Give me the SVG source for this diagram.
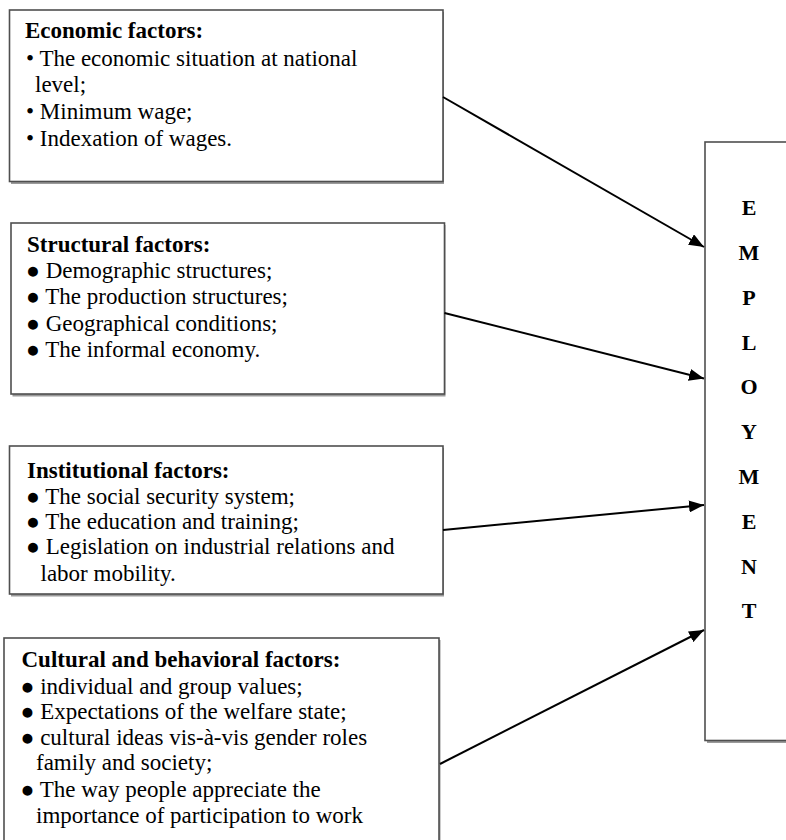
<svg xmlns="http://www.w3.org/2000/svg" width="786" height="840" viewBox="0 0 786 840">
  <style>
    .box { fill: #ffffff; stroke: #4f4f4f; stroke-width: 1.6; }
    .shadow { fill: #9a9a9a; }
    .t { font-family: 'Liberation Serif', 'DejaVu Serif', serif; font-size: 23px; fill: #000; }
    .b { font-weight: bold; }
    .e { font-family: 'Liberation Serif', 'DejaVu Serif', serif; font-size: 22px; font-weight: bold; text-anchor: middle; fill: #000; }
    .conn { stroke: #000; stroke-width: 2; fill: none; marker-end: url(#arr); }
  </style>
  <defs>
    <marker id="arr" markerUnits="userSpaceOnUse" markerWidth="16" markerHeight="12" refX="15" refY="6" orient="auto">
      <path d="M0,0 L15,6 L0,12 z" fill="#000"/>
    </marker>
  </defs>
  <rect width="786" height="840" fill="#ffffff"/>

  <g id="economic">
    <rect class="shadow" x="11" y="12" width="433" height="172"/>
    <rect class="box" x="9.5" y="10" width="433.5" height="171.5"/>
    <text class="t b" x="25" y="38">Economic factors:</text>
    <text class="t" x="26" y="66">• The economic situation at national</text>
    <text class="t" x="35" y="92">level;</text>
    <text class="t" x="26" y="119">• Minimum wage;</text>
    <text class="t" x="26" y="146">• Indexation of wages.</text>
  </g>

  <g id="structural">
    <rect class="shadow" x="12.5" y="225" width="433" height="171.5"/>
    <rect class="box" x="11" y="223" width="433.5" height="171"/>
    <text class="t b" x="27" y="252">Structural factors:</text>
    <text class="t" x="26" y="278">● Demographic structures;</text>
    <text class="t" x="26" y="304">● The production structures;</text>
    <text class="t" x="26" y="330.5">● Geographical conditions;</text>
    <text class="t" x="26" y="356.5">● The informal economy.</text>
  </g>

  <g id="institutional">
    <rect class="shadow" x="11" y="448" width="433" height="148.5"/>
    <rect class="box" x="9.5" y="446" width="433.5" height="148"/>
    <text class="t b" x="27" y="477.5">Institutional factors:</text>
    <text class="t" x="26" y="504">● The social security system;</text>
    <text class="t" x="26" y="529">● The education and training;</text>
    <text class="t" x="26" y="554">● Legislation on industrial relations and</text>
    <text class="t" x="40.5" y="580.5">labor mobility.</text>
  </g>

  <g id="cultural">
    <rect class="shadow" x="5.5" y="640" width="435" height="215"/>
    <rect class="box" x="4" y="638" width="435" height="215"/>
    <text class="t b" x="21.5" y="667">Cultural and behavioral factors:</text>
    <text class="t" x="20.5" y="694">● individual and group values;</text>
    <text class="t" x="20.5" y="719">● Expectations of the welfare state;</text>
    <text class="t" x="20.5" y="745">● cultural ideas vis-à-vis gender roles</text>
    <text class="t" x="36" y="770">family and society;</text>
    <text class="t" x="20.5" y="797">● The way people appreciate the</text>
    <text class="t" x="36" y="822.5">importance of participation to work</text>
  </g>

  <g id="employment">
    <rect class="shadow" x="707" y="144" width="100" height="599"/>
    <rect class="box" x="705" y="142" width="100" height="598.5"/>
    <text class="e" x="749" y="215">E</text>
    <text class="e" x="749" y="260">M</text>
    <text class="e" x="749" y="304.5">P</text>
    <text class="e" x="749" y="349.5">L</text>
    <text class="e" x="749" y="394">O</text>
    <text class="e" x="749" y="439">Y</text>
    <text class="e" x="749" y="484">M</text>
    <text class="e" x="749" y="528.5">E</text>
    <text class="e" x="749" y="573.5">N</text>
    <text class="e" x="749" y="618">T</text>
  </g>

  <g id="connectors">
    <line class="conn" x1="443" y1="97" x2="704" y2="247"/>
    <line class="conn" x1="444.5" y1="313" x2="704" y2="378.5"/>
    <line class="conn" x1="443" y1="530" x2="704" y2="505"/>
    <line class="conn" x1="440" y1="764" x2="704" y2="630"/>
  </g>
</svg>
